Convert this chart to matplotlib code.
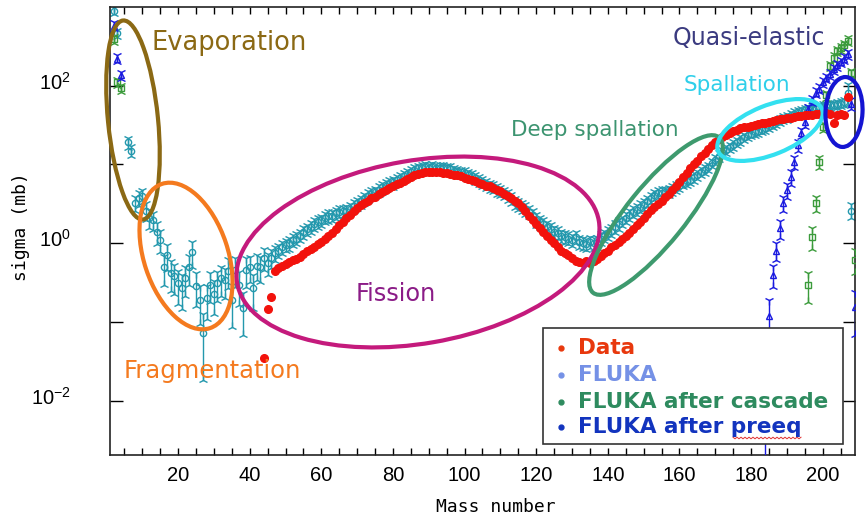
import numpy as np
import matplotlib
matplotlib.use("Agg")
import matplotlib.pyplot as plt
import matplotlib.transforms as mtransforms
from matplotlib.patches import Ellipse, Rectangle
from matplotlib.ticker import FixedLocator, FixedFormatter, MultipleLocator, NullLocator

plt.rcParams['font.family'] = ['DejaVu Sans']
plt.rcParams['mathtext.fontset'] = 'custom'
plt.rcParams['mathtext.rm'] = 'Liberation Sans'
plt.rcParams['mathtext.it'] = 'Liberation Sans'

# ---------------- data (mass number, cross section in mb) ----------------
data_A = list(range(44, 208))
data_sigma = [
    0.035, 0.145, 0.21, 0.45, 0.48, 0.51, 0.55, 0.58, 0.61, 0.64,
    0.68, 0.74, 0.79, 0.84, 0.90, 0.97, 1.05, 1.12, 1.22, 1.35,
    1.51, 1.70, 1.86, 2.09, 2.29, 2.57, 2.82, 3.02, 3.24, 3.47,
    3.72, 3.89, 4.17, 4.47, 4.68, 5.01, 5.25, 5.62, 5.89, 6.17,
    6.46, 6.92, 7.24, 7.59, 7.76, 7.94, 7.94, 8.13, 7.94, 7.94,
    7.76, 7.76, 7.59, 7.41, 7.24, 7.08, 6.76, 6.61, 6.31, 6.17,
    5.89, 5.62, 5.37, 5.25, 5.01, 4.79, 4.57, 4.27, 3.98, 3.72,
    3.47, 3.24, 2.88, 2.57, 2.24, 2.00, 1.74, 1.55, 1.38, 1.23,
    1.10, 1.00, 0.89, 0.81, 0.76, 0.71, 0.65, 0.60, 0.575, 0.56,
    0.59, 0.56, 0.60, 0.63, 0.69, 0.76, 0.81, 0.89, 0.95, 1.05,
    1.15, 1.23, 1.35, 1.51, 1.70, 1.86, 2.09, 2.34, 2.63, 2.88,
    3.16, 3.47, 3.89, 4.27, 4.68, 5.37, 6.03, 6.92, 7.76, 8.91,
    10.0, 11.2, 12.6, 14.1, 15.8, 17.4, 19.1, 20.9, 22.4, 23.4,
    25.1, 26.3, 27.5, 28.8, 29.5, 30.2, 30.9, 31.6, 32.4, 33.1,
    33.9, 34.7, 35.5, 36.3, 37.2, 38.0, 38.9, 38.9, 39.8, 40.7,
    40.7, 41.7, 41.7, 42.7, 43.7, 43.7, 44.7, 44.7, 43.7, 33.1,
    42.7, 43.7, 42.0, 72.0,
]

fluka_A = [2, 3, 6, 7] + list(range(8, 209))
fluka_sigma = [
    890, 460, 19, 15,
    3.2, 3.7, 4.0, 2.6, 2.1, 1.95, 1.38, 1.1, 0.5, 0.71,
    0.42, 0.38, 0.31, 0.27, 0.36, 0.5, 0.77, 0.29, 0.19, 0.072,
    0.2, 0.3, 0.23, 0.31, 0.36, 0.34, 0.45, 0.19, 0.46, 0.3,
    0.15, 0.46, 0.5, 0.27, 0.52, 0.5, 0.66, 0.56, 0.65, 0.75,
    0.81, 0.89, 0.95, 1.0, 1.1, 1.15, 1.25, 1.4, 1.5, 1.6,
    1.75, 1.85, 1.95, 2.1, 2.2, 2.25, 2.4, 2.5, 2.55, 2.6,
    2.75, 3.0, 3.2, 3.4, 3.7, 4.0, 4.25, 4.5, 4.8, 5.1,
    5.4, 5.7, 5.9, 6.3, 6.7, 7.1, 7.5, 8.0, 8.5, 8.9,
    9.0, 9.2, 9.1, 9.3, 9.1, 9.0, 9.1, 8.9, 8.7, 8.3,
    8.1, 7.9, 7.8, 7.4, 7.1, 6.7, 6.3, 6.0, 5.6, 5.3,
    5.1, 4.8, 4.6, 4.3, 4.0, 3.7, 3.3, 3.1, 2.9, 2.7,
    2.5, 2.3, 2.0, 1.85, 1.75, 1.6, 1.5, 1.4, 1.35, 1.25,
    1.2, 1.15, 1.1, 1.2, 1.05, 1.02, 0.98, 1.05, 1.0, 1.05,
    1.15, 1.25, 1.35, 1.45, 1.6, 1.75, 1.9, 2.1, 2.3, 2.5,
    2.65, 2.9, 3.1, 3.4, 3.7, 4.1, 4.3, 4.4, 4.5, 4.6,
    4.8, 5.1, 5.4, 5.8, 6.1, 6.4, 6.9, 7.4, 8.0, 8.6,
    9.2, 10.3, 11.5, 12.8, 14.2, 15.4, 16.5, 17.8, 19.0, 20.5,
    22, 23.5, 24.5, 25.5, 26.5, 27.5, 29, 30.5, 32, 34,
    36, 38, 40, 42, 44, 45.5, 47, 48.5, 50, 51,
    52, 53, 54, 55, 56, 57, 58, 59, 61, 80,
    2.6,
]
# relative errors of the FLUKA points
fluka_err = [
    0.10, 0.10, 0.15, 0.15,
    0.20, 0.20, 0.20, 0.25, 0.25, 0.25, 0.30, 0.30, 0.40, 0.35,
    0.40, 0.40, 0.45, 0.45, 0.40, 0.40, 0.35, 0.45, 0.50, 0.74,
    0.45, 0.40, 0.45, 0.40, 0.40, 0.40, 0.40, 0.54, 0.40, 0.45,
    0.54, 0.40, 0.35, 0.45, 0.35, 0.35, 0.30, 0.30, 0.25, 0.20,
    0.18, 0.18, 0.16, 0.18, 0.16, 0.16, 0.15, 0.16, 0.15, 0.15,
    0.15, 0.15, 0.14, 0.15, 0.15, 0.14, 0.15, 0.15, 0.14, 0.15,
    0.14, 0.15, 0.14, 0.14, 0.15, 0.14, 0.14, 0.13, 0.14, 0.14,
    0.13, 0.13, 0.14, 0.13, 0.13, 0.13, 0.13, 0.12, 0.13, 0.12,
    0.12, 0.12, 0.12, 0.12, 0.12, 0.12, 0.12, 0.12, 0.12, 0.12,
    0.12, 0.12, 0.12, 0.12, 0.13, 0.13, 0.13, 0.13, 0.13, 0.13,
    0.13, 0.14, 0.14, 0.14, 0.14, 0.14, 0.15, 0.15, 0.15, 0.15,
    0.15, 0.15, 0.16, 0.16, 0.16, 0.16, 0.16, 0.16, 0.16, 0.16,
    0.16, 0.16, 0.16, 0.16, 0.16, 0.16, 0.16, 0.16, 0.16, 0.16,
    0.16, 0.15, 0.15, 0.15, 0.15, 0.15, 0.14, 0.14, 0.14, 0.14,
    0.14, 0.14, 0.14, 0.13, 0.13, 0.13, 0.13, 0.13, 0.13, 0.13,
    0.13, 0.13, 0.12, 0.12, 0.12, 0.12, 0.12, 0.12, 0.12, 0.12,
    0.11, 0.11, 0.11, 0.11, 0.11, 0.11, 0.11, 0.11, 0.11, 0.11,
    0.10, 0.10, 0.10, 0.10, 0.10, 0.10, 0.10, 0.10, 0.10, 0.10,
    0.10, 0.10, 0.10, 0.10, 0.10, 0.10, 0.10, 0.10, 0.10, 0.10,
    0.10, 0.10, 0.10, 0.10, 0.10, 0.10, 0.10, 0.10, 0.10, 0.30,
    0.20,
]

casc_A = [2, 3, 4, 196, 197, 198, 199, 200, 201, 202, 203, 204, 205, 206, 207, 208, 209]
casc_sigma = [390, 110, 92, 0.30, 1.2, 3.2, 10.7, 30, 75, 178, 225, 275, 300, 324, 372, 145, 0.62]
casc_err = [0.10, 0.10, 0.10, 0.40, 0.30, 0.20, 0.15, 0.12, 0.10, 0.10, 0.10, 0.10, 0.10, 0.10, 0.10, 0.10, 0.32]

preeq_A = [2, 3, 4] + list(range(184, 210))
preeq_sigma = [575, 220, 135,
               0.03, 0.12, 0.40, 0.81, 1.55, 3.2, 4.7, 6.9, 10.7, 17.4,
               25, 34, 50, 65, 81, 91, 110, 125, 140, 160,
               180, 200, 220, 250, 59, 0.155]
preeq_err = [0.10, 0.10, 0.10,
             0.95, 0.60, 0.30, 0.25, 0.25, 0.20, 0.20, 0.20, 0.15, 0.15,
             0.12, 0.12, 0.10, 0.10, 0.10, 0.10, 0.10, 0.10, 0.10, 0.10,
             0.10, 0.10, 0.10, 0.10, 0.15, 0.56]

c_data = '#f2120c'
c_fluka = '#2398ad'
c_casc = '#3b9b3b'
c_preeq = '#1a1ae0'

fig = plt.figure(figsize=(8.65, 5.21), dpi=100)
ax = fig.add_axes([110 / 865, 66 / 521, 745 / 865, 448 / 521])


def draw_points(A, s, rel, color, marker, z):
    A = np.asarray(A, float)
    s = np.asarray(s, float)
    e = s * np.asarray(rel, float)
    lo, hi = s - e, s + e
    ax.vlines(A, lo, hi, color=color, lw=1.0, zorder=z)
    ax.plot(A, hi, ls='none', marker='1', ms=6.5, mew=1.0, color=color, zorder=z)
    ax.plot(A, lo, ls='none', marker='2', ms=6.5, mew=1.0, color=color, zorder=z)
    ax.plot(A, s, ls='none', marker=marker, ms=4.5, mew=1.0, mfc='none', mec=color, zorder=z)


draw_points(fluka_A, fluka_sigma, fluka_err, c_fluka, 'o', 2)
draw_points(casc_A, casc_sigma, casc_err, c_casc, 's', 3)
draw_points(preeq_A, preeq_sigma, preeq_err, c_preeq, '^', 4)
ax.plot(data_A, data_sigma, ls='none', marker='o', ms=5.5, color=c_data, mec=c_data, zorder=5)

ax.set_yscale('log')
ax.set_xlim(1, 209)
ax.set_ylim(2.07e-3, 990)
ax.xaxis.set_major_locator(MultipleLocator(20))
ax.xaxis.set_minor_locator(MultipleLocator(5))
ax.yaxis.set_major_locator(FixedLocator([1e-2, 1e-1, 1, 10, 100]))
ax.yaxis.set_major_formatter(FixedFormatter(['$10^{-2}$', '', '$10^{0}$', '', '$10^{2}$']))
ax.yaxis.set_minor_locator(NullLocator())
ax.tick_params(axis='x', which='both', direction='in', top=True, bottom=True,
               length=5, width=1, pad=8, labelsize=14.5, labelfontfamily='Liberation Sans')
ax.tick_params(axis='y', which='major', direction='in', left=True, right=True,
               length=9, width=1, pad=28, labelsize=14.5, labelfontfamily='Liberation Sans')
for sp in ax.spines.values():
    sp.set_linewidth(1.2)
    sp.set_color('#222222')

# y tick labels sit a little above their ticks in the original
lift = mtransforms.ScaledTranslation(0, 5 / 100, fig.dpi_scale_trans)
for lab in ax.get_yticklabels():
    lab.set_transform(lab.get_transform() + lift)

ax.set_xlabel('Mass number', family='DejaVu Sans Mono', fontsize=13)
ax.set_ylabel('sigma (mb)', family='DejaVu Sans Mono', fontsize=13)
ax.xaxis.set_label_coords(0.518, -0.095)
ax.yaxis.set_label_coords(-0.107, 0.51)

# ---------------- overlay in pixel units: regions, labels, legend ----------------
ov = fig.add_axes([0, 0, 1, 1])
ov.set_xlim(0, 865)
ov.set_ylim(521, 0)
ov.axis('off')

regions = [
    # label, text pos, fontsize, text colour, ellipse centre, major, minor, angle, ellipse colour
    ('Evaporation', (229, 43), 18.5, '#8b6914', (133, 120), 200, 50, 84.3, '#8b6914'),
    ('Fragmentation', (212, 371), 17.5, '#f47a1f', (186, 256), 152, 84, 71.6, '#f47a1f'),
    ('Fission', (396, 294), 17.3, '#8b1c87', (418, 252), 367, 183, -9.8, '#c41a7c'),
    ('Deep spallation', (595, 130), 15.5, '#3c9470', (656, 215), 200, 58, -51, '#3e9a6e'),
    ('Spallation', (737, 85), 15.5, '#2fcfea', (770, 130), 112, 49, -22, '#33e0f0'),
    ('Quasi-elastic', (749, 38), 17, '#3b3b80', (844, 112), 70, 37, 93, '#1414d2'),
]
for label, tpos, fs, tcol, cen, w, h, ang, ecol in regions:
    ov.add_patch(Ellipse(cen, w, h, angle=ang, fill=False, ec=ecol, lw=3.0))
    ov.text(tpos[0], tpos[1], label, fontsize=fs, color=tcol, ha='center', va='center')

# legend
ov.add_patch(Rectangle((543, 328), 300, 116, fc='white', ec='#333333', lw=1.2))
leg_labels = ['Data', 'FLUKA', 'FLUKA after cascade', 'FLUKA after preeq']
leg_colors = ['#e8380d', '#7591e6', '#2e8b5f', '#1234be']
leg_y = [348, 375, 402, 427]
for lab, col, yy in zip(leg_labels, leg_colors, leg_y):
    ov.plot(561, yy, 'o', ms=3.5, color=col)
    ov.text(578, yy, lab, fontsize=15.5, fontweight='bold', color=col, ha='left', va='center')
# spell-check squiggle under "preeq"
sq_x = np.arange(733, 803, 2.0)
sq_y = 438 + np.where(np.arange(len(sq_x)) % 2 == 0, -0.8, 0.8)
ov.plot(sq_x, sq_y, color='#e03030', lw=0.7)

fig.savefig('out.png', dpi=100, facecolor='white')
